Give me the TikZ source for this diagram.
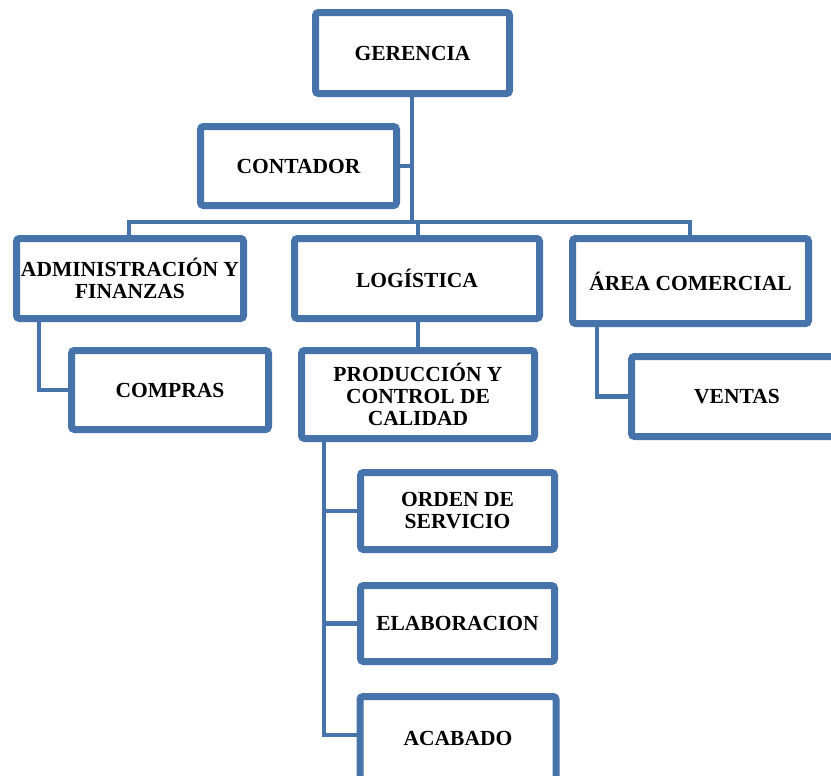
\documentclass[tikz,border=0pt]{standalone}
\usepackage{fontspec}
\setmainfont{Liberation Serif}
\usetikzlibrary{shadows,backgrounds}
\definecolor{orgblue}{RGB}{70,115,170}
\tikzset{
  orgbox/.style={draw=orgblue, line width=3.5pt, fill=white, rounded corners=1.5pt,
    align=center, inner sep=1pt, font=\bfseries\fontsize{10.75}{11}\selectfont,
    drop shadow={opacity=0.22, shadow xshift=1pt, shadow yshift=-1.5pt}},
  link/.style={draw=orgblue, line width=2.2pt}
}
\begin{document}
\begin{tikzpicture}[x=0.5pt,y=-0.5pt]
\useasboundingbox (0,0) rectangle (831,776);
\clip (0,0) rectangle (831,776);
% boxes
\node[orgbox, minimum width=97pt, minimum height=40.5pt] (ger) at (412.5,53) {GERENCIA};
\node[orgbox, minimum width=98pt, minimum height=39.5pt] (con) at (298.5,166) {CONTADOR};
\node[orgbox, minimum width=113.5pt, minimum height=40pt] (adm) at (130,278.5) {ADMINISTRACIÓN Y\\FINANZAS};
\node[orgbox, minimum width=122.5pt, minimum height=40pt] (log) at (417,278.5) {LOGÍSTICA};
\node[orgbox, minimum width=118pt, minimum height=42.5pt] (are) at (690.5,281) {ÁREA COMERCIAL};
\node[orgbox, minimum width=98.5pt, minimum height=39.5pt] (com) at (170,390) {COMPRAS};
\node[orgbox, minimum width=105.5pt, minimum height=40pt] (ven) at (737,396.5) {VENTAS};
\node[orgbox, minimum width=116.5pt, minimum height=44pt] (pro) at (418,394.5) {PRODUCCIÓN Y\\CONTROL DE\\CALIDAD};
\node[orgbox, minimum width=97pt, minimum height=38.5pt] (ord) at (457.5,511) {ORDEN DE\\SERVICIO};
\node[orgbox, minimum width=97pt, minimum height=38pt] (ela) at (457.5,623.5) {ELABORACION};
\node[orgbox, minimum width=98pt, minimum height=42pt] (aca) at (458,738.5) {ACABADO};
% junction coordinates
\coordinate (busL) at (129,222);
\coordinate (busR) at (690,222);
\coordinate (trunk) at (412,222);
\coordinate (busLog) at (418,222);
\begin{scope}[on background layer]
\fill[white] (0,0) rectangle (831,776);
\draw[link] (ger.south -| trunk) -- (trunk);
\draw[link] (con.east) -- (con.east -| trunk);
\draw[link] (adm.north -| busL) -- (busL) -- (busR) -- (are.north -| busR);
\draw[link] (busLog) -- (log.north -| busLog);
\draw[link] (log.south -| busLog) -- (pro.north -| busLog);
\draw[link] (adm.south -| 39,0) |- (com.west);
\draw[link] (are.south -| 597,0) |- (ven.west);
\draw[link] (pro.south -| 324,0) |- (324,735) -- (aca.west |- 324,735);
\draw[link] (ord.west -| 324,0) -- (ord.west);
\draw[link] (ela.west -| 324,0) -- (ela.west);
\end{scope}
\end{tikzpicture}
\end{document}
